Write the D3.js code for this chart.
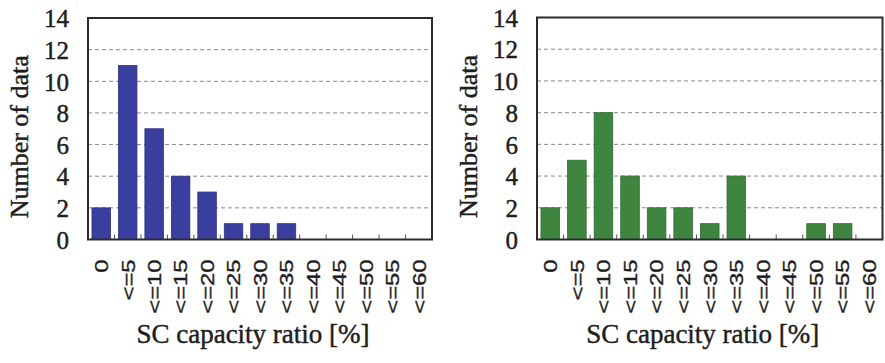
<!DOCTYPE html>
<html>
<head>
<meta charset="utf-8">
<script src="https://cdn.jsdelivr.net/npm/d3@7"></script>
<style>
  html, body { margin: 0; padding: 0; background: #fff; }
  svg { display: block; }
  .serif { font-family: "Liberation Serif", "Times New Roman", serif; stroke: #1e1e1e; stroke-width: 0.45px; }
  .sans { font-family: "Liberation Sans", Arial, sans-serif; stroke: #1e1e1e; stroke-width: 0.35px; }
</style>
</head>
<body>
<svg id="chart" width="885" height="363"></svg>
<script>
// Histogram categories of SC capacity ratio
const categories = ["0", "<=5", "<=10", "<=15", "<=20", "<=25", "<=30", "<=35", "<=40", "<=45", "<=50", "<=55", "<=60"];
// Counts per category for each panel
const leftCounts  = [2, 11, 7, 4, 3, 1, 1, 1, 0, 0, 0, 0, 0];
const rightCounts = [2, 5, 8, 4, 2, 2, 1, 4, 0, 0, 1, 1, 0];
const yTicks = [0, 2, 4, 6, 8, 10, 12, 14];
const yTitle = "Number of data";
const xTitle = "SC capacity ratio [%]";

const svg = d3.select("#chart");
const ink = "#1e1e1e";

function panel(cfg) {
  const { x0, x1, top, bottom, values, color } = cfg;

  const x = d3.scaleBand().domain(categories).range([x0, x1]).paddingInner(0.3).paddingOuter(0.15);
  const y = d3.scaleLinear().domain([0, 14]).range([bottom, top]);
  const g = svg.append("g");

  // dashed horizontal grid
  g.selectAll("line.grid").data(yTicks.filter(t => t > 0 && t < 14)).join("line")
    .attr("x1", x0).attr("x2", x1)
    .attr("y1", d => y(d)).attr("y2", d => y(d))
    .attr("stroke", "#8a8a8a").attr("stroke-width", 1)
    .attr("stroke-dasharray", "4,3");

  // bars
  g.selectAll("rect.bar").data(values.map((v, i) => ({ c: categories[i], v })).filter(d => d.v > 0)).join("rect")
    .attr("x", d => x(d.c)).attr("width", x.bandwidth())
    .attr("y", d => y(d.v)).attr("height", d => y(0) - y(d.v))
    .attr("fill", color).attr("stroke", d3.color(color).darker(0.6)).attr("stroke-width", 0.8);

  // inward ticks at category boundaries
  const step = x.step();
  const bounds = categories.slice(1).map(c => x(c) - step * x.paddingInner() / 2);
  g.selectAll("line.xt").data(bounds).join("line")
    .attr("x1", d => d).attr("x2", d => d)
    .attr("y1", bottom).attr("y2", bottom - 5)
    .attr("stroke", "#555").attr("stroke-width", 1);

  // frame
  g.append("rect").attr("x", x0).attr("y", top).attr("width", x1 - x0).attr("height", bottom - top)
    .attr("fill", "none").attr("stroke", "#2b2b2b").attr("stroke-width", 2);

  // y axis labels
  const yAxis = d3.axisLeft(y).tickValues(yTicks).tickSize(0).tickPadding(19);
  const ya = g.append("g").attr("transform", `translate(${x0},0)`).call(yAxis)
    .attr("font-family", null).attr("font-size", null);
  ya.select(".domain").remove();
  ya.selectAll("text").attr("class", "serif")
    .attr("font-size", 25).attr("fill", ink).attr("dy", "0.35em");

  // x axis labels, rotated
  const xAxis = d3.axisBottom(x).tickSize(0).tickPadding(0);
  const xa = g.append("g").attr("transform", `translate(0,${bottom})`).call(xAxis)
    .attr("font-family", null).attr("font-size", null);
  xa.select(".domain").remove();
  xa.selectAll(".tick text").attr("class", "sans")
    .attr("font-size", 19).attr("fill", ink)
    .attr("text-anchor", "end")
    .attr("x", 0).attr("y", 0).attr("dy", "0.36em")
    .attr("transform", "translate(0,20) rotate(-90) scale(1.25,1)");

  // axis titles
  g.append("text").attr("class", "serif")
    .attr("transform", `translate(${x0 - 60},${(top + bottom) / 2 + 8}) rotate(-90)`)
    .attr("text-anchor", "middle")
    .attr("font-size", 26).attr("fill", ink)
    .text(yTitle);

  g.append("text").attr("class", "serif")
    .attr("x", (x0 + x1) / 2 - 7).attr("y", 343)
    .attr("text-anchor", "middle")
    .attr("font-size", 27).attr("fill", ink)
    .text(xTitle);
}

panel({ x0: 88, x1: 432, top: 18, bottom: 239.5, values: leftCounts, color: "#3a3e9e" });
panel({ x0: 537, x1: 882.5, top: 17.5, bottom: 239.5, values: rightCounts, color: "#3e8640" });
</script>
</body>
</html>
